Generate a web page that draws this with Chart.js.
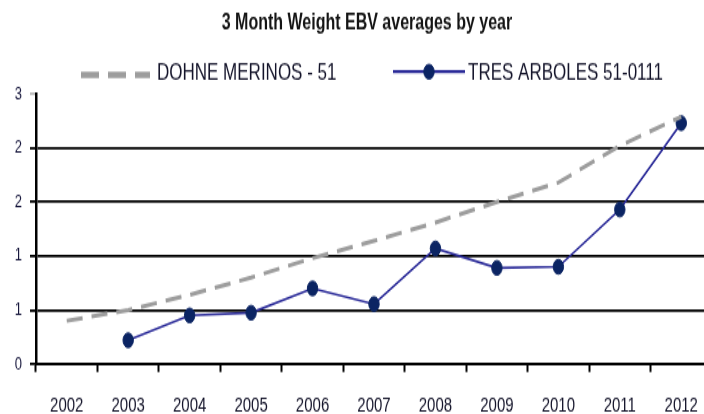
<!DOCTYPE html>
<html>
<head>
<meta charset="utf-8">
<script src="https://cdn.jsdelivr.net/npm/chart.js@4/dist/chart.umd.min.js"></script>
<style>
  html, body { margin: 0; padding: 0; overflow: hidden; background: #fff; }
  #outer { width: 704px; height: 414px; overflow: hidden; position: relative; }
  #inner { width: 734px; height: 296px; transform: scale(1, 1.4); transform-origin: 0 0; position: absolute; left: 0; top: 0; }
</style>
</head>
<body>
<div id="outer"><div id="inner"><canvas id="c"></canvas></div></div>
<script>
const chartTitle = "3 Month Weight EBV averages by year";
const years = ["2002","2003","2004","2005","2006","2007","2008","2009","2010","2011","2012"];
const dohneLabel = "DOHNE MERINOS - 51";
const dohneValues = [0.40, 0.50, 0.64, 0.80, 0.98, 1.14, 1.31, 1.50, 1.68, 2.02, 2.29];
const tresLabel = "TRES ARBOLES 51-0111";
const tresValues = [null, 0.22, 0.45, 0.475, 0.70, 0.555, 1.07, 0.89, 0.90, 1.43, 2.23];
const yTickValues = [0, 0.5, 1.0, 1.5, 2.0, 2.5];
const yTickLabels = ["0", "1", "1", "2", "2", "3"];

const FONT = "'Liberation Sans', Arial, sans-serif";

// custom legend drawn from dataset styles
const legendPlugin = {
  id: 'customLegend',
  afterDraw(chart, args, opts) {
    const ctx = chart.ctx;
    ctx.save();
    chart.data.datasets.forEach((ds, i) => {
      const it = opts.items[i];
      ctx.save();
      ctx.strokeStyle = ds.borderColor;
      ctx.lineWidth = it.lineWidth;
      ctx.setLineDash(it.dash || []);
      ctx.beginPath();
      ctx.moveTo(it.x0, it.y);
      ctx.lineTo(it.x1, it.y);
      ctx.stroke();
      ctx.setLineDash([]);
      if (ds.pointRadius > 0) {
        ctx.fillStyle = ds.pointBackgroundColor;
        ctx.strokeStyle = ds.pointBorderColor;
        ctx.lineWidth = ds.pointBorderWidth;
        ctx.beginPath();
        ctx.arc((it.x0 + it.x1) / 2, it.y, ds.pointRadius, 0, Math.PI * 2);
        ctx.fill();
        ctx.stroke();
      }
      ctx.fillStyle = opts.color;
      ctx.font = opts.font;
      ctx.textBaseline = 'middle';
      ctx.textAlign = 'left';
      ctx.fillText(ds.label, it.tx, it.ty);
      ctx.restore();
    });
    ctx.restore();
  }
};

new Chart(document.getElementById('c'), {
  type: 'line',
  data: {
    labels: years,
    datasets: [
      {
        label: dohneLabel,
        data: dohneValues,
        borderColor: '#9d9d9d',
        borderWidth: 3,
        borderDash: [16, 9],
        pointRadius: 0,
        pointHoverRadius: 0,
        fill: false,
        tension: 0
      },
      {
        label: tresLabel,
        data: tresValues,
        borderColor: '#2a2a98',
        borderWidth: 1.6,
        pointRadius: 5.2,
        pointBackgroundColor: '#0b2463',
        pointBorderColor: '#0b2463',
        pointBorderWidth: 1,
        fill: false,
        tension: 0,
        spanGaps: false
      }
    ]
  },
  options: {
    responsive: true,
    maintainAspectRatio: false,
    animation: false,
    devicePixelRatio: 1,
    layout: { padding: 0 },
    plugins: {
      legend: { display: false },
      tooltip: { enabled: false },
      title: {
        display: true,
        text: chartTitle,
        color: '#141414',
        font: { family: FONT, size: 16, weight: 'bold' },
        padding: { top: 7, bottom: 40.9 }
      },
      customLegend: {
        color: '#14142a',
        font: "17px " + FONT,
        items: [
          { x0: 81, x1: 150, y: 53.4, lineWidth: 4.5, dash: [18, 9], tx: 157, ty: 52.6 },
          { x0: 393, x1: 465, y: 51.2, lineWidth: 2.2, dash: [], tx: 468, ty: 52.6 }
        ]
      }
    },
    scales: {
      x: {
        type: 'category',
        offset: true,
        grid: {
          offset: true,
          display: true,
          drawOnChartArea: false,
          drawTicks: true,
          tickLength: 5.7,
          tickColor: '#000',
          tickWidth: 2,
          color: '#000'
        },
        border: { display: true, color: '#000', width: 2 },
        ticks: {
          color: '#14142a',
          font: { family: FONT, size: 15 },
          padding: 14.9,
          maxRotation: 0,
          autoSkip: false
        },
        afterFit: (s) => { s.height = 36; }
      },
      y: {
        type: 'linear',
        position: 'left',
        min: 0,
        max: 2.5,
        afterBuildTicks: (s) => { s.ticks = yTickValues.map(v => ({ value: v })); },
        grid: {
          display: true,
          drawOnChartArea: true,
          drawTicks: true,
          tickLength: 6,
          lineWidth: 1.8,
          color: (c) => (c.index === yTickValues.length - 1 ? 'rgba(0,0,0,0)' : '#000'),
          tickColor: (c) => (c.index === yTickValues.length - 1 ? '#bbbbbb' : '#000')
        },
        border: { display: true, color: '#000', width: 2.5, z: 1 },
        ticks: {
          color: '#14143a',
          font: { family: FONT, size: 13 },
          padding: 8,
          callback: (v, i) => yTickLabels[i]
        },
        afterFit: (s) => { s.width = 36; }
      },
      yRight: {
        type: 'linear',
        position: 'right',
        display: true,
        grid: { display: false, drawTicks: false },
        border: { display: false },
        ticks: { display: false },
        afterFit: (s) => { s.width = 22; }
      }
    }
  },
  plugins: [legendPlugin]
});
</script>
</body>
</html>
